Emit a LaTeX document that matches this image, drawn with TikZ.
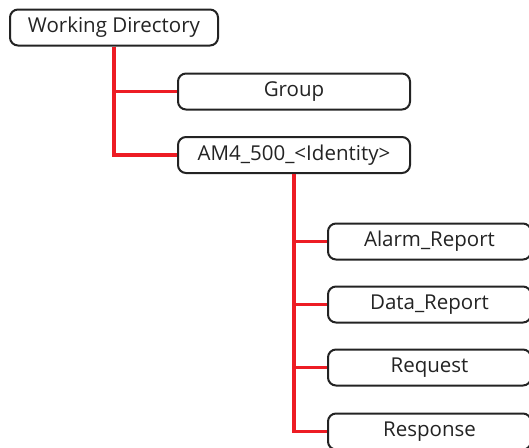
\documentclass[tikz,border=0pt]{standalone}
\usepackage{fontspec}
\setmainfont{Open Sans}
\usetikzlibrary{positioning}
\definecolor{linkred}{RGB}{237,28,36}
\definecolor{boxline}{RGB}{35,35,35}

\begin{document}
\begin{tikzpicture}[x=1pt,y=1pt,every node/.style={font=\fontsize{20.5}{24}\selectfont,align=center,text=boxline},
  folder/.style={draw=boxline,line width=2pt,rounded corners=8pt,minimum height=36pt,inner sep=0pt},
  link/.style={draw=linkred,line width=3.6pt}]
\useasboundingbox (0,0) rectangle (529,-447);
\node[folder,minimum width=208pt] (wd) at (114,-27.5) {Working Directory};
\node[folder,minimum width=232pt] (grp) at (294,-91.5) {Group};
\node[folder,minimum width=232pt] (am4) at (294,-155) {AM4\_500\_<Identity>};
\node[folder,minimum width=203pt] (alarm) at (429.5,-241.5) {Alarm\_Report};
\node[folder,minimum width=203pt] (data) at (429.5,-304.5) {Data\_Report};
\node[folder,minimum width=203pt] (req) at (429.5,-367.5) {Request};
\node[folder,minimum width=203pt] (resp) at (429.5,-431.5) {Response};
\draw[link] (wd.south) |- (grp.west); \draw[link] (wd.south) |- (am4.west);
\draw[link] (am4.south) |- (alarm.west); \draw[link] (am4.south) |- (data.west);
\draw[link] (am4.south) |- (req.west); \draw[link] (am4.south) |- (resp.west);
\end{tikzpicture}
\end{document}
